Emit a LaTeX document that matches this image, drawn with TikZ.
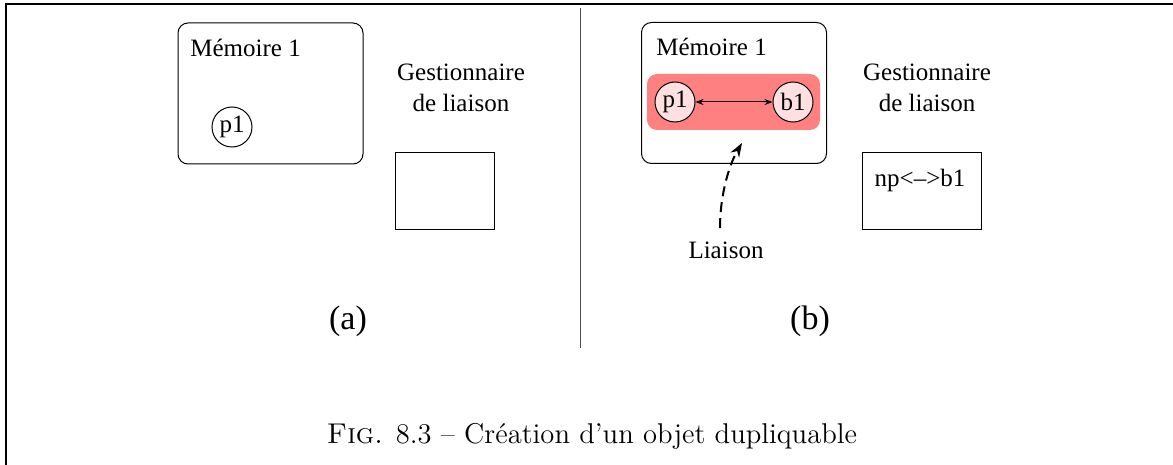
\documentclass[tikz,border=0pt]{standalone}
\usepackage{fontspec}
\usepackage{tikz}
\usetikzlibrary{arrows.meta,positioning}
\newfontfamily\tnr[Ligatures=TeX]{Liberation Serif}
\tikzset{mem/.style={draw, rounded corners=5pt, minimum width=92.5pt, minimum height=70.5pt, line width=0.5pt}}
\tikzset{obj/.style={draw, circle, minimum size=20pt, inner sep=0pt, line width=0.5pt}}
\tikzset{gest/.style={draw, minimum height=38pt, line width=0.5pt}}
\tikzset{txt/.style={draw=none, fill=none, inner sep=0pt, align=center}}
\tikzset{lien/.style={<->, >={Stealth[length=4pt, width=3pt]}, line width=0.5pt}}
\tikzset{dlien/.style={-{Stealth[length=7pt, width=5pt]}, line width=1pt, dash pattern=on 5pt off 3pt}}
\definecolor{czone}{RGB}{255,128,128}
\definecolor{cobj}{RGB}{255,224,224}

\begin{document}
\begin{tikzpicture}[x=0.5pt, y=-0.5pt, font=\tnr\fontsize{12.5}{15.5}\selectfont]
        \useasboundingbox (0,0) rectangle (1173,465);

        %%% CADRE %%%
        \draw[line width=1.25pt] (6,465) -- (6,4) -- (1173,4);

        %%% (a) %%%
        \node[mem] (memA) at (270.5,93.5) {};
        \node[txt, anchor=base west] (memAlab) at (190,57) {Mémoire 1};
        \node[obj] (p1a) at (232,127) {p1};
        \node[txt, anchor=base] (gestAlab) at (461,112) {Gestionnaire\\de liaison};
        \node[gest, minimum width=49.5pt] (gestA) at (444.5,191) {};
        \node[txt, anchor=base, font=\tnr\fontsize{17}{20}\selectfont] (capa) at (348,329) {(a)};

        %%% SEPARATION %%%
        \draw[line width=0.5pt, black!70] (580,8) -- (580,348);

        %%% (b) %%%
        \node[mem] (memB) at (734,93) {};
        \node[txt, anchor=base west] (memBlab) at (656,56) {Mémoire 1};
        \node[fill=czone, rounded corners=5pt, minimum width=86.5pt, minimum height=28pt] (zone) at (733.5,102) {};
        \node[obj, fill=cobj] (p1b) at (675,102) {p1};
        \node[obj, fill=cobj] (b1) at (793,102) {b1};
        \node[txt, anchor=base] (gestBlab) at (927,112) {Gestionnaire\\de liaison};
        \node[gest, minimum width=59.5pt] (gestB) at (921.5,191) {};
        \node[txt, anchor=base] (np) at (920,186) {np<\textendash>b1};
        \node[txt, anchor=base] (liaison) at (726,258) {Liaison};
        \node[txt, anchor=base, font=\tnr\fontsize{17}{20}\selectfont] (capb) at (810,329) {(b)};
        \coordinate (pointe) at (742,143);

        %%% FLECHES %%%
        \draw[lien] (p1b) -- (b1);
        \draw[dlien] ([xshift=-3pt, yshift=6.5pt]liaison.north) .. controls +(0,-35) and +(-12,20) .. (pointe);

        %%% LEGENDE %%%
        \node[txt, anchor=base, font=\normalfont\fontsize{14.3}{17}\selectfont] (legende) at (592,443)
            {\textsc{Fig.} 8.3 -- Création d'un objet dupliquable};
    \end{tikzpicture}
\end{document}
